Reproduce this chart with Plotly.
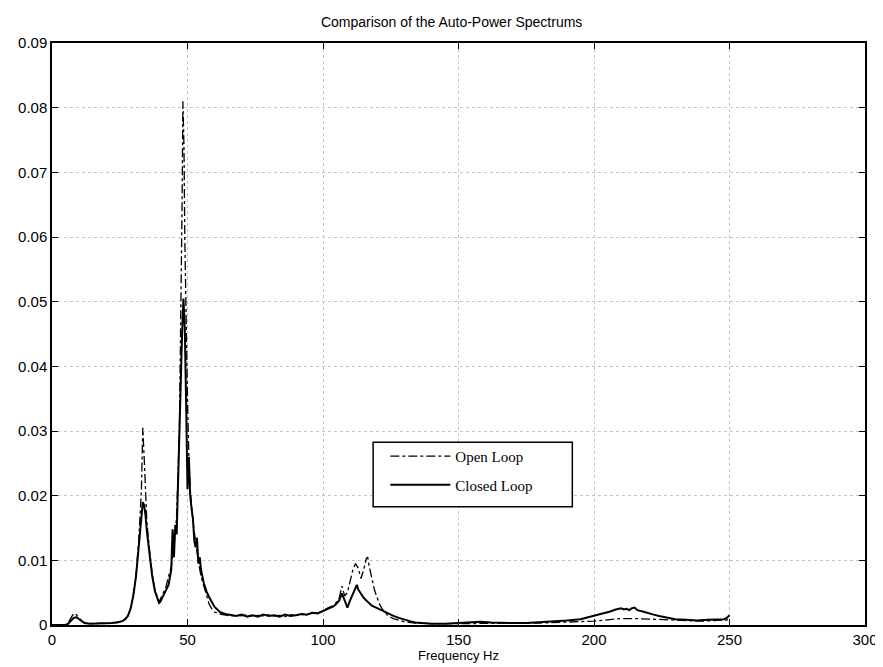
import plotly.graph_objects as go

# ---------------- data ----------------
freq_closed = [0, 5, 6, 7, 8, 9, 10, 11, 12, 14, 16, 18, 20, 22, 24, 26, 27, 28, 29, 30,
               31, 32, 33, 33.5, 34, 34.5, 35, 36, 37, 38, 39, 39.5, 40, 41, 42, 43, 44,
               44.5, 45, 45.5, 46, 46.5, 47, 47.5, 48, 48.5, 49, 49.5, 50, 50.5, 51, 51.5,
               52, 52.5, 53, 53.5, 54, 54.5, 55, 56, 57, 58, 59, 60, 61, 62, 64, 66, 68,
               70, 72, 74, 76, 78, 80, 82, 84, 86, 88, 90, 92, 94, 96, 98, 100, 102, 104,
               105, 106, 107, 108, 109, 110, 111, 112, 112.5, 113, 114, 115, 116, 118, 120,
               122, 124, 126, 128, 130, 132, 134, 136, 140, 145, 150, 155, 158, 162, 166,
               170, 175, 180, 185, 190, 195, 198, 200, 202, 204, 206, 208, 210, 211, 212,
               213, 214, 215, 216, 218, 220, 222, 224, 226, 228, 230, 234, 238, 242, 246,
               248, 249, 250]
closed_loop = [0, 0, 0.0002, 0.0007, 0.0011, 0.0012, 0.0009, 0.0005, 0.0003, 0.0002, 0.0002,
               0.0003, 0.0002, 0.0003, 0.0004, 0.0006, 0.0009, 0.0014, 0.0025, 0.0045,
               0.0075, 0.012, 0.0165, 0.019, 0.0185, 0.017, 0.0145, 0.011, 0.0075, 0.0052,
               0.0038, 0.0034, 0.0036, 0.0044, 0.0052, 0.0062, 0.0085,
               0.0148, 0.0105, 0.0155, 0.014, 0.022, 0.032, 0.040, 0.045, 0.0505, 0.046,
               0.034, 0.021, 0.026, 0.020, 0.018,
               0.0165, 0.013, 0.012, 0.0135, 0.0095, 0.0105, 0.0085, 0.0065, 0.0052, 0.0043,
               0.0035, 0.0028, 0.0024, 0.0020, 0.0017, 0.0015, 0.0014,
               0.0016, 0.0013, 0.0015, 0.0013, 0.0016, 0.0014, 0.0015, 0.0013, 0.0016, 0.0014,
               0.0015, 0.0017, 0.0016, 0.0019, 0.0018, 0.0022, 0.0026, 0.0029,
               0.0033, 0.0038, 0.0049, 0.0038, 0.0027, 0.0038, 0.0048, 0.0058, 0.0062, 0.0055,
               0.0048, 0.0042, 0.0038, 0.0030, 0.0026,
               0.0022, 0.0017, 0.0014, 0.0011, 0.0008, 0.0006, 0.0004, 0.0003, 0.0002, 0.0002,
               0.0003, 0.0004, 0.0005, 0.0004, 0.0003,
               0.0003, 0.0003, 0.0004, 0.0005, 0.0007, 0.0009, 0.0012, 0.0014, 0.0016, 0.0018,
               0.0021, 0.0024, 0.0026, 0.0024, 0.0025,
               0.0023, 0.0026, 0.0027, 0.0023, 0.0021, 0.0018, 0.0016, 0.0014, 0.0012, 0.0010,
               0.0009, 0.0008, 0.0007, 0.0008, 0.0008,
               0.0009, 0.0011, 0.0015]

freq_open = [0, 5, 6, 7, 8, 9, 10, 11, 12, 14, 16, 18, 20, 22, 24, 26, 27, 28, 29, 30, 31,
             32, 33, 33.5, 34, 34.5, 35, 36, 37, 38, 39, 39.5, 40, 41, 42, 43, 44, 45, 46,
             47, 47.5, 48, 48.3, 48.7, 49, 49.5, 50, 50.5, 51, 52, 53, 54, 55, 56, 57, 58,
             59, 60, 62, 64, 66, 68, 70, 72, 74, 76, 78, 80, 82, 84, 86, 88, 90, 92, 94, 96,
             98, 100, 102, 104, 106, 107, 108, 109, 110, 111, 112, 113, 114, 115, 116, 116.5,
             117, 118, 119, 120, 121, 122, 123, 124, 126, 128, 130, 134, 140, 150, 160, 170,
             180, 190, 200, 205, 210, 215, 220, 225, 230, 240, 250]
open_loop = [0, 0, 0.0004, 0.0012, 0.0018, 0.0016, 0.0011, 0.0006, 0.0003, 0.0002, 0.0002,
             0.0003, 0.0002, 0.0003, 0.0004, 0.0006, 0.0009, 0.0014, 0.0026, 0.0046, 0.0078,
             0.013, 0.021, 0.0305, 0.026, 0.020, 0.016, 0.0115, 0.0078, 0.0054, 0.0040,
             0.0036, 0.0040, 0.0048, 0.0058, 0.0075, 0.0090, 0.0120, 0.0170,
             0.030, 0.045, 0.065, 0.081, 0.074, 0.060, 0.045, 0.035, 0.026, 0.021, 0.016,
             0.0125, 0.0098, 0.0075, 0.0060, 0.0045, 0.0032,
             0.0025, 0.0020, 0.0017, 0.0015, 0.0014, 0.0015, 0.0014, 0.0016, 0.0013, 0.0015,
             0.0014, 0.0016, 0.0014, 0.0015, 0.0013, 0.0016, 0.0015, 0.0016, 0.0017, 0.0018,
             0.0019, 0.0022, 0.0027, 0.0030, 0.0042, 0.0060, 0.0045, 0.0050, 0.0068, 0.0085,
             0.0095, 0.0088, 0.0072, 0.0085, 0.0103, 0.0105,
             0.0092, 0.0070, 0.0054, 0.0042, 0.0031, 0.0024, 0.0018, 0.0014, 0.0010, 0.0007,
             0.0005, 0.0003, 0.0002, 0.0002, 0.0003, 0.0003,
             0.0003, 0.0004, 0.0006, 0.0008, 0.0010, 0.0010, 0.0009, 0.0008, 0.0007, 0.0006,
             0.0008]

x_ticks = [0, 50, 100, 150, 200, 250, 300]
x_tick_labels = ["0", "50", "100", "150", "200", "250", "300"]
y_ticks = [0, 0.01, 0.02, 0.03, 0.04, 0.05, 0.06, 0.07, 0.08, 0.09]
y_tick_labels = ["0", "0.01", "0.02", "0.03", "0.04", "0.05", "0.06", "0.07", "0.08", "0.09"]

# ---------------- figure ----------------
fig = go.Figure()
fig.add_trace(go.Scatter(x=freq_open, y=open_loop, mode="lines", name="Open Loop",
                         legendgroup="a",
                         line=dict(color="black", width=1.3, dash="dashdot")))
fig.add_trace(go.Scatter(x=freq_closed, y=closed_loop, mode="lines", name="Closed Loop",
                         legendgroup="b",
                         line=dict(color="black", width=2)))

axis_common = dict(showline=True, linecolor="black", linewidth=1.5, mirror="ticks",
                   ticks="inside", ticklen=6, tickcolor="black", tickwidth=1.2,
                   showgrid=True, gridcolor="#c4c4c4", griddash="dot", gridwidth=1,
                   zeroline=False, automargin=False,
                   tickfont=dict(family="Liberation Sans, Arial", size=15, color="black"))

fig.update_xaxes(range=[0, 300], tickvals=x_ticks, ticktext=x_tick_labels,
                 title=dict(text="Frequency Hz", standoff=0,
                            font=dict(family="Liberation Sans, Arial", size=13, color="black")),
                 **axis_common)
fig.update_yaxes(range=[0, 0.09], tickvals=y_ticks, ticktext=y_tick_labels, **axis_common)

# legend frame
fig.add_shape(type="rect", xref="paper", yref="paper", x0=0.395, x1=0.64, y0=0.203, y1=0.314,
              line=dict(color="black", width=1.5), fillcolor="white", layer="above")

fig.update_layout(
    width=875, height=659,
    margin=dict(l=44, r=18, t=35, b=42),
    paper_bgcolor="white", plot_bgcolor="white",
    title=dict(text="Comparison of the Auto-Power Spectrums", x=0.507, xanchor="center",
               y=0.979, yanchor="middle",
               font=dict(family="Liberation Sans, Arial", size=14, color="black")),
    legend=dict(x=0.41, y=0.318, xanchor="left", yanchor="top",
                bgcolor="rgba(0,0,0,0)", borderwidth=0, itemwidth=60,
                tracegroupgap=6,
                font=dict(family="Liberation Serif, Times New Roman", size=15, color="black")),
    showlegend=True,
)

fig.write_html("out.html")
